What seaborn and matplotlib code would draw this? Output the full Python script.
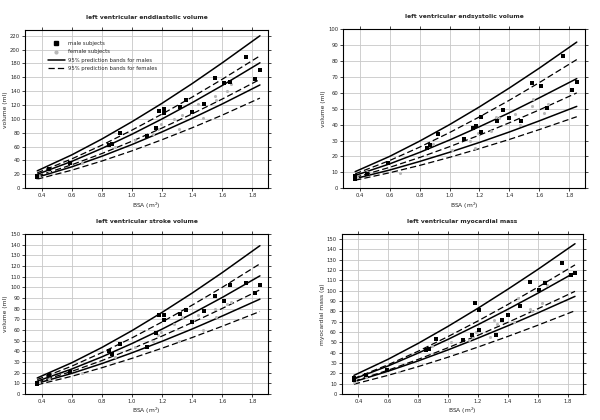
import matplotlib
matplotlib.use("Agg")
import matplotlib.pyplot as plt
import seaborn as sns
from matplotlib.lines import Line2D

band_bsa = [0.37, 0.6, 0.8, 1.0, 1.2, 1.4, 1.6, 1.85]

# subjects
male_bsa = [0.37, 0.37, 0.45, 0.59, 0.85, 0.87, 0.92, 1.10, 1.16, 1.18, 1.21,
            1.21, 1.32, 1.36, 1.40, 1.48, 1.55, 1.61, 1.65, 1.76, 1.82, 1.85]
female_bsa = [0.37, 0.38, 0.45, 0.67, 0.89, 1.02, 1.14, 1.17, 1.19, 1.28, 1.31,
              1.33, 1.44, 1.47, 1.55, 1.56, 1.63, 1.66]

# left ventricular enddiastolic volume (ml)
edv_male = [16, 18, 27, 37, 62, 64, 79, 76, 87, 112, 114, 109, 117, 128, 110, 121,
            159, 152, 153, 189, 157, 171]
edv_female = [15, 17, 25, 36, 60, 70, 78, 86, 92, 100, 85, 105, 122, 101, 133, 128,
              140, 150]
edv_male_upper = [25.0, 48.1, 71.0, 96.0, 122.6, 151.0, 181.0, 220.0]
edv_male_mid = [20.0, 38.7, 57.4, 77.9, 100.0, 123.5, 148.3, 181.0]
edv_male_lower = [15.7, 30.8, 46.1, 63.0, 81.3, 100.9, 121.6, 149.0]
edv_female_upper = [22.1, 42.3, 62.1, 83.8, 107.0, 131.5, 157.3, 191.0]
edv_female_mid = [17.5, 33.8, 50.0, 67.8, 86.9, 107.3, 128.7, 157.0]
edv_female_lower = [13.0, 26.0, 39.2, 53.9, 70.0, 87.2, 105.5, 130.0]

# left ventricular endsystolic volume (ml)
esv_male = [7.6, 5.5, 9, 15.8, 25, 27, 34, 31, 38, 39, 44.6, 35.6, 42, 49.4, 44,
            42.5, 66, 64.4, 50.8, 83, 61.7, 67]
esv_female = [6, 7, 10, 9.5, 28, 24, 30, 25, 35, 36, 45, 44, 47, 40, 52, 56,
              47.5, 53]
esv_male_upper = [10.4, 20.0, 29.6, 40.0, 51.2, 63.1, 75.6, 92.0]
esv_male_mid = [8.0, 15.3, 22.5, 30.3, 38.7, 47.5, 56.9, 69.0]
esv_male_lower = [6.0, 11.4, 16.8, 22.6, 28.8, 35.4, 42.4, 51.5]
esv_female_upper = [9.0, 17.4, 25.8, 35.0, 44.9, 55.4, 66.5, 81.0]
esv_female_mid = [6.8, 13.1, 19.3, 26.1, 33.4, 41.2, 49.3, 60.0]
esv_female_lower = [5.0, 9.7, 14.3, 19.4, 24.9, 30.7, 36.9, 45.0]

# left ventricular stroke volume (ml)
sv_male = [9, 10, 18, 21, 40, 37, 47, 44, 57, 74, 74, 69, 75, 79, 67, 78,
           92, 87, 102, 104, 95, 102]
sv_female = [10, 11, 14, 20, 35, 44, 50, 55, 58, 66, 50, 72, 74, 60, 80, 72,
             84, 86]
sv_male_upper = [15.0, 29.3, 43.6, 59.4, 76.5, 94.6, 113.8, 139.0]
sv_male_mid = [12.0, 23.4, 34.8, 47.3, 60.8, 75.3, 90.5, 110.7]
sv_male_lower = [10.0, 19.3, 28.5, 38.6, 49.4, 60.9, 73.1, 88.9]
sv_female_upper = [13.5, 26.1, 38.8, 52.6, 67.5, 83.3, 100.0, 122.0]
sv_female_mid = [11.0, 21.2, 31.3, 42.4, 54.3, 66.9, 80.2, 97.6]
sv_female_lower = [8.6, 16.6, 24.6, 33.4, 42.9, 52.9, 63.5, 77.3]

# left ventricular myocardial mass (g)
mass_male = [14, 15, 18, 23, 43, 44, 53, 52, 57, 88, 81, 62, 57, 72, 76, 85,
             108, 101, 107, 127, 115, 117]
mass_female = [12, 13, 16, 21, 46, 50, 52, 55, 60, 55, 72, 68, 70, 93, 82, 80,
               88, 106]
mass_male_upper = [18.0, 33.7, 49.0, 65.5, 83.0, 101.4, 120.5, 145.5]
mass_male_mid = [14.5, 27.2, 39.6, 52.9, 67.1, 82.0, 97.5, 117.7]
mass_male_lower = [11.8, 22.1, 32.0, 42.7, 54.1, 66.0, 78.4, 94.5]
mass_female_upper = [15.0, 28.4, 41.4, 55.6, 70.7, 86.6, 103.3, 125.0]
mass_female_mid = [12.3, 23.1, 33.5, 44.8, 56.8, 69.3, 82.4, 99.4]
mass_female_lower = [9.5, 18.1, 26.5, 35.6, 45.4, 55.7, 66.5, 80.6]

panels = [
    ("left ventricular enddiastolic volume", "volume (ml)", 228, 20,
     edv_male, edv_female,
     [edv_male_upper, edv_male_mid, edv_male_lower],
     [edv_female_upper, edv_female_mid, edv_female_lower]),
    ("left ventricular endsystolic volume", "volume (ml)", 100, 10,
     esv_male, esv_female,
     [esv_male_upper, esv_male_mid, esv_male_lower],
     [esv_female_upper, esv_female_mid, esv_female_lower]),
    ("left ventricular stroke volume", "volume (ml)", 150, 10,
     sv_male, sv_female,
     [sv_male_upper, sv_male_mid, sv_male_lower],
     [sv_female_upper, sv_female_mid, sv_female_lower]),
    ("left ventricular myocardial mass", "myocardial mass (g)", 155, 10,
     mass_male, mass_female,
     [mass_male_upper, mass_male_mid, mass_male_lower],
     [mass_female_upper, mass_female_mid, mass_female_lower]),
]

positions = [
    [0.042, 0.552, 0.405, 0.376],
    [0.572, 0.552, 0.403, 0.378],
    [0.042, 0.062, 0.405, 0.381],
    [0.570, 0.062, 0.402, 0.381],
]

sns.set_theme(style="ticks")
plt.rcParams["font.family"] = ["DejaVu Sans"]

fig = plt.figure(figsize=(6, 4.2), dpi=100)

for pos, (title, ylabel, ymax, ystep, m_vals, f_vals, m_bands, f_bands) in zip(positions, panels):
    ax = fig.add_axes(pos)
    ax.set_axisbelow(True)
    ax.grid(True, color="#c8c8c8", linewidth=0.6)

    for band in m_bands:
        sns.lineplot(x=band_bsa, y=band, ax=ax, color="black", linewidth=1.1)
    for band in f_bands:
        sns.lineplot(x=band_bsa, y=band, ax=ax, color="black", linewidth=0.9,
                     linestyle=(0, (5, 2.5)))

    sns.scatterplot(x=female_bsa, y=f_vals, ax=ax, color="#b8b8b8", marker="o",
                    s=5, linewidth=0, zorder=3)
    sns.scatterplot(x=male_bsa, y=m_vals, ax=ax, color="black", marker="s",
                    s=6, linewidth=0, zorder=4)

    ax.set_xlim(0.29, 1.905)
    ax.set_ylim(0, ymax)
    ax.set_xticks([0.4, 0.6, 0.8, 1.0, 1.2, 1.4, 1.6, 1.8])
    ax.set_xticklabels(["0.4", "0.6", "0.8", "1.0", "1.2", "1.4", "1.6", "1.8"])
    ax.set_yticks(range(0, int(ymax) + 1, ystep))
    ax.tick_params(axis="both", which="both", direction="out", length=2.5, width=0.6,
                   labelsize=3.8, pad=1.2, top=True, right=True)
    for s in ax.spines.values():
        s.set_linewidth(0.8)
        s.set_color("black")

    ax.set_title(title, fontsize=4.3, fontweight="bold", pad=8)
    ax.set_xlabel("BSA (m$^2$)", fontsize=4.3, labelpad=1.5)
    ax.set_ylabel(ylabel, fontsize=4.3, labelpad=1.5)

    if title.endswith("enddiastolic volume"):
        handles = [
            Line2D([], [], color="black", marker="s", markersize=2.2, linestyle="none"),
            Line2D([], [], color="#b8b8b8", marker="o", markersize=2.0, linestyle="none"),
            Line2D([], [], color="black", linewidth=1.1),
            Line2D([], [], color="black", linewidth=0.9, linestyle=(0, (5, 2.5))),
        ]
        labels = ["male subjects", "female subjects",
                  "95% prediction bands for males", "95% prediction bands for females"]
        ax.legend(handles, labels, loc="upper left", bbox_to_anchor=(0.08, 0.95),
                  frameon=False, fontsize=3.8, handlelength=3.2, handletextpad=0.6,
                  labelspacing=0.6, borderaxespad=0.2)

fig.savefig("out.png", dpi=100)
